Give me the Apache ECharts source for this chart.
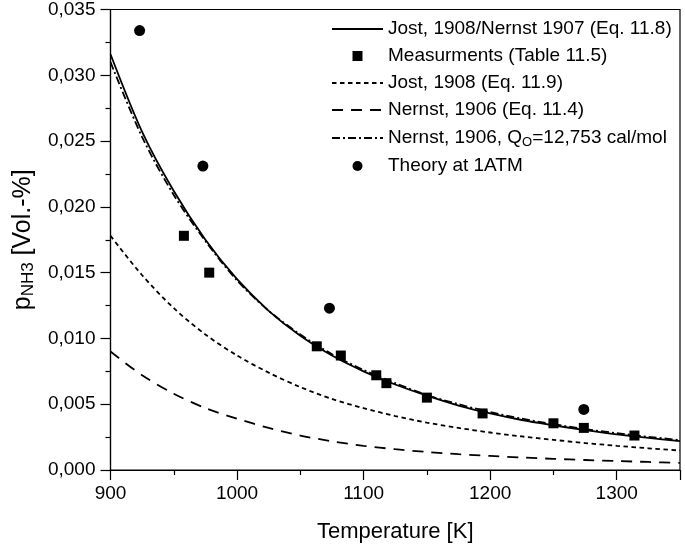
<!DOCTYPE html>
<html>
<head>
<meta charset="utf-8">
<script src="https://cdn.jsdelivr.net/npm/echarts@6/dist/echarts.min.js"></script>
<style>
html,body{margin:0;padding:0;background:#fff;}
#chart{width:685px;height:548px;}
</style>
</head>
<body>
<div id="chart"></div>
<script>
// ---- data ----
const temps = [900, 925, 950, 975, 1000, 1025, 1050, 1075, 1100, 1125, 1150, 1175, 1200, 1225, 1250, 1275, 1300, 1325, 1350];
const jost118 = [0.0316, 0.0257, 0.0212, 0.0175, 0.0145, 0.0121, 0.0102, 0.0087, 0.0075, 0.0065, 0.00565, 0.0049, 0.0043, 0.0038, 0.0034, 0.00303, 0.0027, 0.00244, 0.0022];
const jost119 = [0.0178, 0.0148, 0.0123, 0.0103, 0.0087, 0.0074, 0.0063, 0.0054, 0.0047, 0.0041, 0.0036, 0.0032, 0.00285, 0.00255, 0.00229, 0.00205, 0.00184, 0.00165, 0.00148];
const nernst114 = [0.0090, 0.0072, 0.0058, 0.0047, 0.0039, 0.0032, 0.00262, 0.00218, 0.00184, 0.00158, 0.00137, 0.0012, 0.00107, 0.00095, 0.00085, 0.00076, 0.00068, 0.00061, 0.00054];
const nernstQ = [0.0310, 0.0253, 0.0209, 0.0174, 0.0144, 0.0121, 0.0103, 0.0088, 0.0076, 0.0066, 0.0057, 0.0050, 0.0044, 0.0039, 0.00348, 0.00311, 0.0028, 0.00252, 0.00228];
const measT = [958, 978, 1063, 1082, 1110, 1118, 1150, 1194, 1250, 1274, 1314];
const measP = [0.0178, 0.0150, 0.0094, 0.0087, 0.0072, 0.0066, 0.0055, 0.0043, 0.00355, 0.0032, 0.00262];
const theoryT = [923, 973, 1073, 1274];
const theoryP = [0.0334, 0.0231, 0.0123, 0.0046];
const xTickLabels = ['900', '1000', '1100', '1200', '1300'];
const yTickLabels = ['0,000', '0,005', '0,010', '0,015', '0,020', '0,025', '0,030', '0,035'];
const names = [
  'Jost, 1908/Nernst 1907 (Eq. 11.8)',
  'Measurments (Table 11.5)',
  'Jost, 1908 (Eq. 11.9)',
  'Nernst, 1906 (Eq. 11.4)',
  'Nernst, 1906, QO=12,753 cal/mol',
  'Theory at 1ATM'
];

const pairs = (xs, ys) => xs.map((x, i) => [x, ys[i]]);
const FONT = 'Liberation Sans, Arial, sans-serif';

const chart = echarts.init(document.getElementById('chart'), null, {renderer: 'canvas'});
const lineSeries = (name, data, type, z) => ({
  name, type: 'line', data, smooth: 0.3, symbol: 'none', z,
  lineStyle: {color: '#000', width: 1.8, type},
  itemStyle: {color: '#000'}
});
const noMark = {color: 'rgba(0,0,0,0)', borderWidth: 0, opacity: 0};

chart.setOption({
  animation: false,
  backgroundColor: '#fff',
  grid: {left: 110.5, right: 5, top: 9.5, bottom: 75, show: true, borderColor: '#000', borderWidth: 1.2},
  legend: {
    orient: 'vertical', left: 326, top: 14,
    itemWidth: 51, itemHeight: 10, itemGap: 7,
    textStyle: {
      fontFamily: FONT, fontSize: 19, color: '#000', lineHeight: 20,
      rich: {
        t: {fontFamily: FONT, fontSize: 19, color: '#000', lineHeight: 20},
        s: {fontFamily: FONT, fontSize: 13, color: '#000', lineHeight: 12, padding: [9, 0, 0, 0]}
      }
    },
    formatter: (n) => n === names[4] ? '{t|Nernst, 1906, Q}{s|O}{t|=12,753 cal/mol}' : n,
    data: [
      {name: names[0], itemStyle: noMark},
      {name: names[1], icon: 'path://M0,0L1,0L1,1L0,1Z'},
      {name: names[2], itemStyle: noMark},
      {name: names[3], itemStyle: noMark},
      {name: names[4], itemStyle: noMark},
      {name: names[5], icon: 'circle'}
    ]
  },
  xAxis: {
    type: 'value', min: 900, max: 1350, interval: 100,
    name: 'Temperature [K]', nameLocation: 'middle', nameGap: 51,
    nameTextStyle: {fontFamily: FONT, fontSize: 22, color: '#000'},
    axisLine: {lineStyle: {color: '#000', width: 1.2}},
    axisTick: {show: true, inside: false, length: 10, lineStyle: {color: '#000', width: 1.2}},
    minorTick: {show: true, splitNumber: 2, length: 5, lineStyle: {color: '#000', width: 1.2}},
    splitLine: {show: false},
    axisLabel: {
      fontFamily: FONT, fontSize: 19, color: '#000', margin: 14, showMaxLabel: false,
      formatter: (v) => { const i = Math.round((v - 900) / 100); return (Math.abs(v - 900 - i * 100) < 1e-6 && xTickLabels[i]) ? xTickLabels[i] : ''; }
    }
  },
  yAxis: {
    type: 'value', min: 0, max: 0.035, interval: 0.005,
    name: '{n|p}{s|NH3}{n| [Vol.-%]}', nameLocation: 'middle', nameGap: 68,
    nameTextStyle: {
      fontFamily: FONT, fontSize: 25, color: '#000',
      rich: {
        n: {fontFamily: FONT, fontSize: 25, color: '#000', lineHeight: 26},
        s: {fontFamily: FONT, fontSize: 17, color: '#000', lineHeight: 16, padding: [10, 0, 0, 0]}
      }
    },
    axisLine: {lineStyle: {color: '#000', width: 1.2}},
    axisTick: {show: true, inside: false, length: 10, lineStyle: {color: '#000', width: 1.2}},
    minorTick: {show: true, splitNumber: 2, length: 5, lineStyle: {color: '#000', width: 1.2}},
    splitLine: {show: false},
    axisLabel: {
      fontFamily: FONT, fontSize: 19, color: '#000', margin: 15,
      formatter: (v) => yTickLabels[Math.round(v / 0.005)] || ''
    }
  },
  series: [
    lineSeries(names[0], pairs(temps, jost118), 'solid', 3),
    {name: names[1], type: 'scatter', data: pairs(measT, measP), symbol: 'rect', symbolSize: 10, z: 10, itemStyle: {color: '#000', opacity: 1}},
    lineSeries(names[2], pairs(temps, jost119), [4.5, 3.5], 2),
    lineSeries(names[3], pairs(temps, nernst114), [11, 8], 2),
    lineSeries(names[4], pairs(temps, nernstQ), [8, 3, 2, 3], 2),
    {name: names[5], type: 'scatter', data: pairs(theoryT, theoryP), symbol: 'circle', symbolSize: 11, z: 10, itemStyle: {color: '#000', opacity: 1}}
  ]
});
</script>
</body>
</html>
